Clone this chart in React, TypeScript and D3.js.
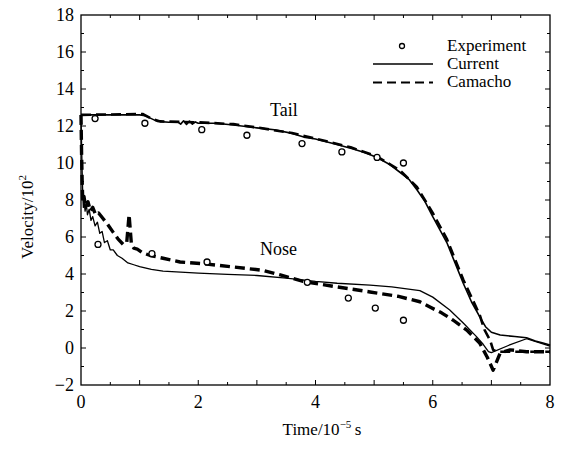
import React from "react";
import * as d3 from "d3";

type P = [number, number];

const xTicks = [0, 2, 4, 6, 8];
const yTicks = [-2, 0, 2, 4, 6, 8, 10, 12, 14, 16, 18];

const tailCurrent: P[] = [
  [0, 12.6], [0.5, 12.6], [1.0, 12.6], [1.1, 12.55], [1.2, 12.4], [1.3, 12.25], [1.5, 12.2],
  [1.65, 12.22], [1.7, 12.1], [1.75, 12.28], [1.8, 12.08], [1.85, 12.27], [1.9, 12.1], [1.95, 12.22],
  [2.0, 12.15], [2.3, 12.15], [2.6, 12.05], [3.0, 11.9], [3.3, 11.8], [3.6, 11.6], [3.8, 11.4],
  [4.0, 11.3], [4.3, 11.05], [4.6, 10.8], [4.85, 10.55], [5.05, 10.3], [5.25, 9.95], [5.44, 9.5],
  [5.6, 9.1], [5.73, 8.55], [5.87, 7.9], [6.0, 7.1], [6.12, 6.4], [6.24, 5.7], [6.38, 4.6],
  [6.52, 3.5], [6.66, 2.5], [6.8, 1.7], [6.9, 1.15], [7.0, 0.85], [7.15, 0.7], [7.4, 0.62],
  [7.6, 0.55], [7.75, 0.38], [7.88, 0.27], [8.0, 0.16],
];

const tailCamacho: P[] = [
  [0, 12.6], [1.05, 12.65], [1.2, 12.4], [1.35, 12.25], [2.0, 12.2], [2.6, 12.1], [3.0, 11.92],
  [3.6, 11.62], [4.0, 11.32], [4.6, 10.85], [5.05, 10.35], [5.44, 9.6], [5.73, 8.7], [6.0, 7.3],
  [6.24, 5.9], [6.52, 3.7], [6.8, 1.8], [6.88, 1.0], [6.98, 0.4], [7.03, -0.1], [7.1, -0.2],
  [8.0, -0.2],
];

const noseCurrent: P[] = [
  [0, 12.6], [0.01, 11.0], [0.02, 9.5], [0.03, 8.3], [0.04, 7.6], [0.05, 8.0], [0.07, 7.4],
  [0.09, 7.8], [0.11, 7.2], [0.14, 7.5], [0.17, 6.9], [0.2, 7.1], [0.24, 6.6], [0.28, 6.8],
  [0.32, 6.2], [0.36, 6.3], [0.4, 5.7], [0.45, 5.8], [0.5, 5.3], [0.55, 5.3], [0.62, 5.0],
  [0.7, 4.85], [0.8, 4.6], [0.9, 4.5], [1.0, 4.4], [1.2, 4.25], [1.4, 4.15], [1.7, 4.1],
  [2.0, 4.05], [2.5, 3.98], [3.0, 3.92], [3.5, 3.78], [4.0, 3.6], [4.37, 3.5], [4.93, 3.4],
  [5.3, 3.3], [5.78, 3.1], [6.0, 2.75], [6.29, 2.05], [6.52, 1.35], [6.75, 0.6], [6.86, 0.2],
  [6.95, -0.2], [7.0, -0.25], [7.3, 0.15], [7.6, 0.5], [7.8, 0.3], [8.0, 0.1],
];

const noseCamacho: P[] = [
  [0, 12.6], [0.01, 10.5], [0.02, 9.0], [0.03, 7.9], [0.05, 8.2], [0.08, 7.6], [0.12, 7.9],
  [0.16, 7.4], [0.2, 7.6], [0.25, 7.2], [0.3, 7.3], [0.375, 7.0], [0.45, 6.7], [0.55, 6.25],
  [0.63, 5.9], [0.72, 5.6], [0.78, 5.7], [0.82, 7.2], [0.86, 5.6], [0.9, 5.4], [0.96, 5.35],
  [1.05, 5.15], [1.18, 5.0], [1.4, 4.85], [1.69, 4.65], [2.1, 4.55], [2.54, 4.4], [3.1, 4.2],
  [3.4, 3.95], [3.79, 3.6], [4.37, 3.3], [4.93, 3.03], [5.4, 2.8], [5.78, 2.5], [5.96, 2.2],
  [6.15, 1.9], [6.35, 1.5], [6.58, 0.97], [6.8, 0.27], [6.93, -0.5], [7.03, -1.2], [7.15, -0.27],
  [7.32, -0.1], [7.6, -0.2], [8.0, -0.2],
];

const tailExperiment: P[] = [
  [0.24, 12.4], [1.09, 12.15], [2.06, 11.8], [2.83, 11.5], [3.77, 11.05], [4.45, 10.6],
  [5.05, 10.3], [5.5, 10.0],
];

const noseExperiment: P[] = [
  [0.29, 5.6], [1.21, 5.1], [2.15, 4.65], [3.86, 3.55], [4.56, 2.7], [5.02, 2.16], [5.5, 1.5],
];

const W = 565;
const H = 457;
const left = 81;
const right = 550;
const top = 15;
const bottom = 385;
const FONT = "Liberation Serif, Times New Roman, DejaVu Serif, serif";

export default function App() {
  const x = d3.scaleLinear().domain([0, 8]).range([left, right]);
  const y = d3.scaleLinear().domain([-2, 18]).range([bottom, top]);
  const line = d3
    .line<P>()
    .x((d) => x(d[0]))
    .y((d) => y(d[1]));

  const xMinor = d3.range(0.5, 8, 0.5);
  const yMinor = d3.range(-1, 18, 1);
  const ts = { fontFamily: FONT };

  return (
    <svg
      width={W}
      height={H}
      style={{ position: "absolute", left: 0, top: 0, background: "#fff", fontFamily: FONT }}
    >
      <rect x={0} y={0} width={W} height={H} fill="#fff" />
      {/* frame */}
      <rect x={left} y={top} width={right - left} height={bottom - top} fill="none" stroke="#000" strokeWidth={1.3} />
      {xMinor.map((t) => {
        const len = Number.isInteger(t) ? 5 : 3;
        return (
          <g key={"xt" + t}>
            <line x1={x(t)} x2={x(t)} y1={bottom} y2={bottom - len} stroke="#000" strokeWidth={1} />
            <line x1={x(t)} x2={x(t)} y1={top} y2={top + len} stroke="#000" strokeWidth={1} />
          </g>
        );
      })}
      {yMinor.map((v) => {
        const len = v % 2 === 0 ? 5 : 3;
        return (
          <g key={"yt" + v}>
            <line x1={left} x2={left + len} y1={y(v)} y2={y(v)} stroke="#000" strokeWidth={1} />
            <line x1={right} x2={right - len} y1={y(v)} y2={y(v)} stroke="#000" strokeWidth={1} />
          </g>
        );
      })}
      {xTicks.map((t) => (
        <text key={"xl" + t} x={x(t)} y={408} fontSize={18} textAnchor="middle" style={ts}>
          {t}
        </text>
      ))}
      {yTicks.map((v) => (
        <text key={"yl" + v} x={74} y={y(v) + 6} fontSize={18} textAnchor="end" style={ts}>
          {v < 0 ? "\u2212" + Math.abs(v) : v}
        </text>
      ))}
      <text x={322} y={435} fontSize={17} textAnchor="middle" style={ts}>
        Time/10
        <tspan fontSize={11} dy={-7}>
          {"\u22125"}
        </tspan>
        <tspan dy={7}>{"\u2009s"}</tspan>
      </text>
      <text transform={`translate(33,217) rotate(-90)`} fontSize={17} textAnchor="middle" style={ts}>
        Velocity/10
        <tspan fontSize={11} dy={-7}>
          2
        </tspan>
      </text>

      <g fill="none" stroke="#000" strokeLinejoin="round">
        <path d={line(noseCamacho) ?? ""} strokeWidth={3.4} strokeDasharray="10 5" />
        <path d={line(tailCamacho) ?? ""} strokeWidth={2.6} strokeDasharray="10 5" />
        <path d={line(noseCurrent) ?? ""} strokeWidth={1.3} />
        <path d={line(tailCurrent) ?? ""} strokeWidth={1.6} />
      </g>
      <g fill="#fff" stroke="#000" strokeWidth={1.3}>
        {[...tailExperiment, ...noseExperiment].map((d, i) => (
          <circle key={"e" + i} cx={x(d[0])} cy={y(d[1])} r={3} />
        ))}
      </g>

      <text x={270} y={116} fontSize={18} style={ts}>
        Tail
      </text>
      <text x={260} y={255} fontSize={18} style={ts}>
        Nose
      </text>

      <circle cx={402} cy={46} r={2.5} fill="#fff" stroke="#000" strokeWidth={1.3} />
      <line x1={373} x2={433} y1={64} y2={64} stroke="#000" strokeWidth={1.3} />
      <line x1={373} x2={433} y1={82.5} y2={82.5} stroke="#000" strokeWidth={2} strokeDasharray="9 5" />
      <text x={447} y={51} fontSize={17} style={ts}>
        Experiment
      </text>
      <text x={447} y={69} fontSize={17} style={ts}>
        Current
      </text>
      <text x={447} y={87} fontSize={17} style={ts}>
        Camacho
      </text>
    </svg>
  );
}
